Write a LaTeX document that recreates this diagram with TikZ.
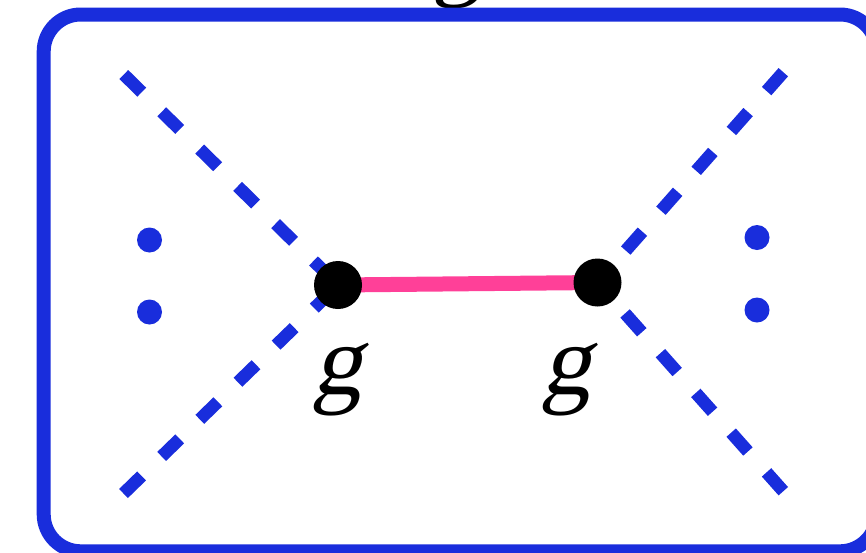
\documentclass[tikz,border=0pt]{standalone}
\usepackage{fontspec}
\usetikzlibrary{backgrounds}
\newfontfamily\gfont{Liberation Serif}[FakeSlant=0.22]
\definecolor{fblue}{RGB}{25,45,220}
\definecolor{fpink}{RGB}{255,64,152}
\newcommand{\glab}{{\gfont\fontsize{50}{58}\selectfont g}}
\begin{document}
\begin{tikzpicture}[x=0.5pt,y=-0.5pt,
  vertex/.style={circle,fill=black,inner sep=0pt,minimum size=24pt},
  leg/.style={draw=fblue,line width=6.3pt,dash pattern=on 12.6pt off 14pt},
  prop/.style={draw=fpink,line width=7.5pt},
  bdot/.style={circle,fill=fblue,inner sep=0pt,minimum size=12.5pt},
  lab/.style={anchor=base,inner sep=0pt},
  frame/.style={draw=fblue,line width=7pt,rounded corners=18.5pt}]
\useasboundingbox (0,0) rectangle (866,552);
\node[lab] (gtop) at (459,-13) {\glab};
\draw[frame] (43.7,14.5) rectangle (877,551.3);
\node[vertex] (v1) at (338,285) {};
\node[vertex] (v2) at (597.5,282.5) {};
\coordinate (ul) at (123.8,74.5);
\coordinate (ll) at (123.5,493.5);
\coordinate (ur) at (783.3,72.2);
\coordinate (lr) at (783.3,491.2);
\begin{pgfonlayer}{background}
\draw[leg] (ul) -- (v1.center);
\draw[leg] (ll) -- (v1.center);
\draw[leg] (ur) -- (v2.center);
\draw[leg] (lr) -- (v2.center);
\draw[prop] (v1.center) -- (v2.center);
\end{pgfonlayer}
\node[lab] (g1) at (337,394) {\glab};
\node[lab] (g2) at (566,394) {\glab};
\node[bdot] (b1) at (149.5,240) {};
\node[bdot] (b2) at (149.5,312) {};
\node[bdot] (b3) at (757,237.5) {};
\node[bdot] (b4) at (757,310) {};
\end{tikzpicture}
\end{document}
